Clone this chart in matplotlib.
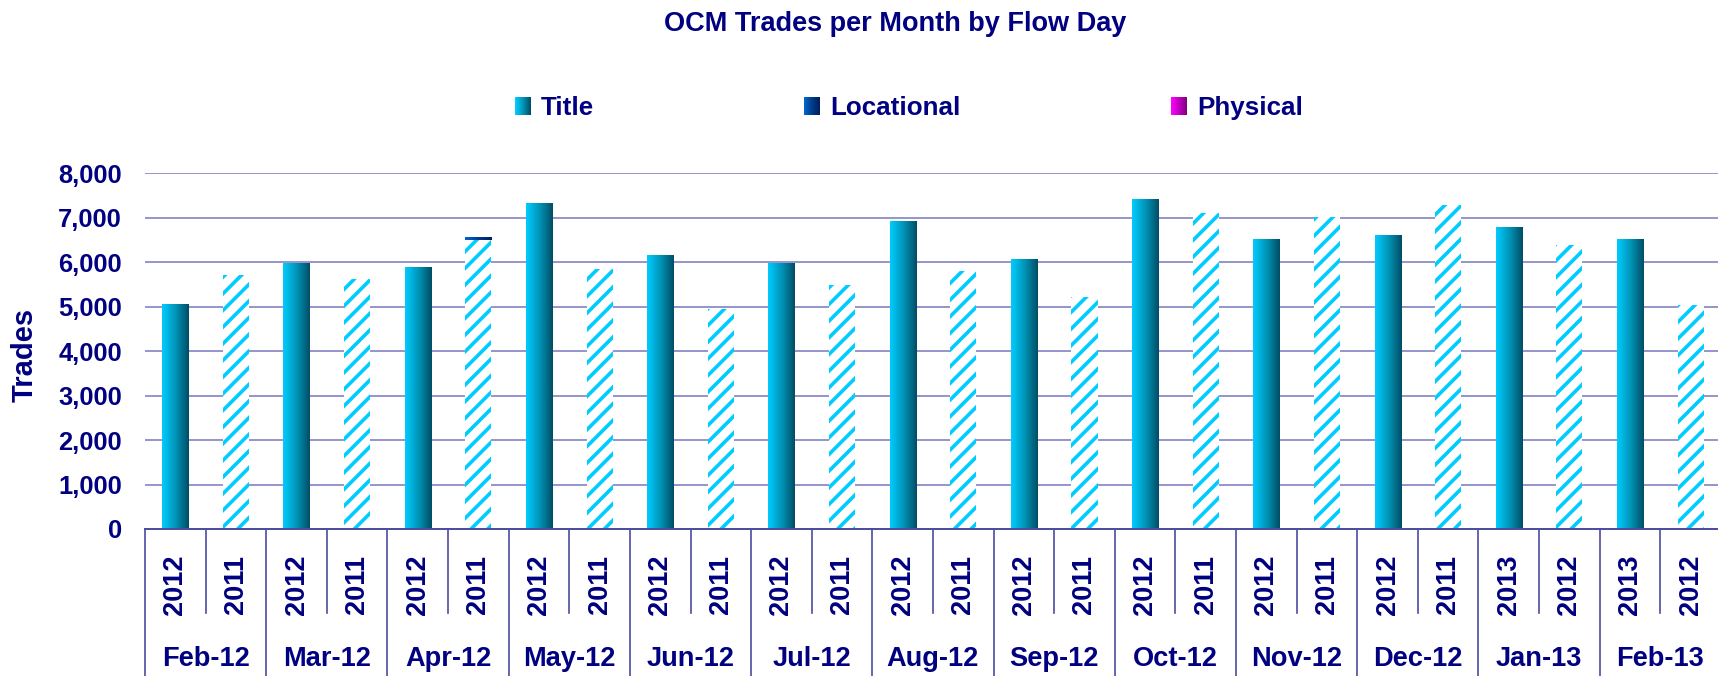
import numpy as np
import matplotlib
matplotlib.use("Agg")
import matplotlib.pyplot as plt
from matplotlib import font_manager
from matplotlib.colors import LinearSegmentedColormap
from matplotlib.patches import Patch, Rectangle
from matplotlib.legend_handler import HandlerBase
import matplotlib.transforms as mtransforms

# data
months = ["Feb-12", "Mar-12", "Apr-12", "May-12", "Jun-12", "Jul-12", "Aug-12",
          "Sep-12", "Oct-12", "Nov-12", "Dec-12", "Jan-13", "Feb-13"]
year_cur = ["2012"] * 11 + ["2013", "2013"]
year_prev = ["2011"] * 11 + ["2012", "2012"]
title_cur = [5040, 5980, 5885, 7330, 6160, 5980, 6920, 6065, 7415, 6515, 6610, 6790, 6520]
title_prev = [5705, 5620, 6505, 5845, 4940, 5480, 5800, 5210, 7100, 7010, 7285, 6385, 5030]
loc_cur = [0] * 13
loc_prev = [0, 0, 60, 0, 0, 0, 0, 0, 0, 0, 0, 0, 0]
phys_cur = [0] * 13
phys_prev = [0] * 13

NAVY = "#000080"
GRID = "#8C8CC8"
DIV = "#4B4BA0"
title_cmap = LinearSegmentedColormap.from_list("t", ["#00CCFF", "#0095B8", "#004E66"])
loc_cmap = LinearSegmentedColormap.from_list("l", ["#0066CC", "#003C8C", "#001F5C"])
phys_cmap = LinearSegmentedColormap.from_list("p", ["#FF00FF", "#C000C0", "#800080"])

names = {f.name for f in font_manager.fontManager.ttflist}
if "Liberation Sans Narrow" in names:
    narrow, yscale, mscale = "Liberation Sans Narrow", 1.0, 1.0
else:
    # no condensed face: shrink a little so widths stay close
    narrow, yscale, mscale = "Liberation Sans", 0.85, 0.9
reg = ["Liberation Sans", "DejaVu Sans"]

plt.rcParams["hatch.linewidth"] = 2.6

fig = plt.figure(figsize=(17.18, 6.76), dpi=100)
ax = fig.add_axes([0.0844, 0.2175, 0.9173, 0.5262])

n = len(months)
x_cur = np.arange(n) * 2
x_prev = np.arange(n) * 2 + 1
w = 0.43


def gradient_fill(bars, cmap):
    grad = np.linspace(0, 1, 64).reshape(1, -1)
    for p in bars:
        h = p.get_height()
        if h <= 0:
            continue
        x0, y0 = p.get_x(), p.get_y()
        ax.imshow(grad, cmap=cmap, extent=(x0, x0 + p.get_width(), y0, y0 + h),
                  aspect="auto", zorder=2, interpolation="bilinear")
        p.set_visible(False)


b1 = ax.bar(x_cur, title_cur, w)
gradient_fill(b1, title_cmap)
b2 = ax.bar(x_prev, title_prev, w, facecolor="white", edgecolor="#00CCFF",
            hatch="//", linewidth=0, zorder=2)
b3 = ax.bar(x_cur, loc_cur, w, bottom=title_cur)
gradient_fill(b3, loc_cmap)
b4 = ax.bar(x_prev, loc_prev, w, bottom=title_prev)
gradient_fill(b4, loc_cmap)
b5 = ax.bar(x_cur, phys_cur, w, bottom=np.add(title_cur, loc_cur))
gradient_fill(b5, phys_cmap)
b6 = ax.bar(x_prev, phys_prev, w, bottom=np.add(title_prev, loc_prev))
gradient_fill(b6, phys_cmap)

ax.set_xlim(-0.5, 2 * n - 0.5)
ax.set_ylim(0, 8000)
ax.set_yticks(np.arange(0, 8001, 1000))
ax.set_yticklabels([f"{v:,}" for v in range(0, 8001, 1000)])
ax.tick_params(axis="y", length=0, pad=16.5, labelsize=18.4, labelcolor=NAVY)
for lab in ax.get_yticklabels():
    lab.set_fontweight("bold")
    lab.set_family(reg)
ax.yaxis.grid(True, color=GRID, linewidth=1.3)
ax.set_axisbelow(True)
for s in ["left", "right", "top"]:
    ax.spines[s].set_visible(False)
ax.spines["bottom"].set_color(DIV)
ax.spines["bottom"].set_linewidth(1.4)
ax.set_xticks([])

ax.set_ylabel("Trades", fontsize=21, fontweight="bold", color=NAVY,
              family=reg, va="center")
ax.yaxis.set_label_coords(-0.0761, 0.49)

# two level category axis
tr = mtransforms.blended_transform_factory(ax.transData, ax.transAxes)
for k in range(2 * n + 1):
    xb = k - 0.5
    low = -0.45 if k % 2 == 0 else -0.235
    ax.plot([xb, xb], [0, low], color=DIV, lw=1.2, transform=tr, clip_on=False)
for xc, xp, yc, yp, m in zip(x_cur, x_prev, year_cur, year_prev, months):
    for xx, yy in ((xc, yc), (xp, yp)):
        ax.text(xx, -0.157, yy, transform=tr, rotation=90, ha="center", va="center",
                fontsize=23 * yscale, fontweight="bold", color=NAVY, family=narrow)
    ax.text((xc + xp) / 2, -0.366, m, transform=tr, ha="center", va="center",
            fontsize=21.8 * mscale, fontweight="bold", color=NAVY, family=narrow)

fig.text(0.521, 1 - 24 / 676, "OCM Trades per Month by Flow Day", ha="center",
         va="center", fontsize=19.5, fontweight="bold", color=NAVY, family=reg)


class GradHandler(HandlerBase):
    def __init__(self, cmap):
        super().__init__()
        self.cmap = cmap

    def create_artists(self, legend, orig_handle, xdescent, ydescent, width, height,
                       fontsize, trans):
        k = 16
        arts = []
        for i in range(k):
            r = Rectangle((-xdescent + i * width / k, -ydescent), width / k + 0.05, height,
                          facecolor=self.cmap(i / (k - 1)), edgecolor="none",
                          transform=trans)
            arts.append(r)
        return arts


h_t, h_l, h_p = Patch(), Patch(), Patch()
leg_fs = 20.8 * mscale
leg = fig.legend([h_t, h_l, h_p], ["Title", "Locational", "Physical"],
                 handler_map={h_t: GradHandler(title_cmap), h_l: GradHandler(loc_cmap),
                              h_p: GradHandler(phys_cmap)},
                 ncol=3, loc="center", bbox_to_anchor=(0.529, 1 - 108 / 676),
                 frameon=False, handlelength=11.5 / leg_fs, handleheight=13.5 / leg_fs,
                 handletextpad=0.4, columnspacing=210 / (leg_fs * 100 / 72),
                 prop={"family": narrow, "weight": "bold", "size": leg_fs})
for t in leg.get_texts():
    t.set_color(NAVY)

fig.savefig("out.png", dpi=100)
